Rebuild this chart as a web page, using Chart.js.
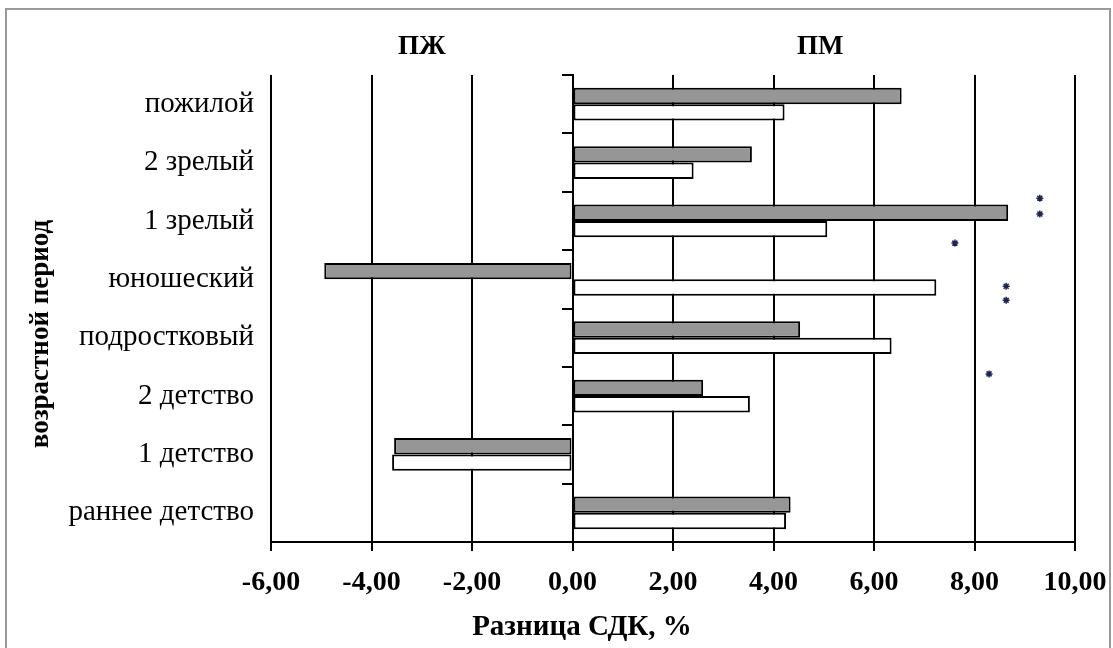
<!DOCTYPE html>
<html>
<head>
<meta charset="utf-8">
<script src="https://cdn.jsdelivr.net/npm/chart.js@4/dist/chart.umd.min.js"></script>
<style>
  html, body { margin: 0; padding: 0; background: #fff; }
  #wrap { width: 1113px; height: 648px; position: relative; }
</style>
</head>
<body>
<div id="wrap"><canvas id="chart" width="1113" height="648"></canvas></div>
<script>
var categories = ['пожилой', '2 зрелый', '1 зрелый', 'юношеский', 'подростковый', '2 детство', '1 детство', 'раннее детство'];
var grayValues = [6.55, 3.57, 8.67, -4.94, 4.53, 2.60, -3.55, 4.34];
var whiteValues = [4.22, 2.41, 5.07, 7.24, 6.35, 3.53, -3.59, 4.25];

// significance marks: x value and row position (category index, fractional)
var starX = [9.30, 9.30, 7.61, 8.63, 8.63, 8.29];
var starRow = [1.61, 1.88, 2.38, 3.12, 3.36, 4.62];

var sideTitles = ['ПЖ', 'ПМ'];
var sideTitleAt = [-3, 4.93];

var xTitle = 'Разница СДК, %';
var yTitle = 'возрастной период';

var xMin = -6, xMax = 10, xStep = 2;

var serif = '"Liberation Serif", "Times New Roman", serif';

function fmt(v) {
  return v.toFixed(2).replace('.', ',');
}

var frame = {
  id: 'frame',
  beforeDraw: function(chart) {
    var ctx = chart.ctx;
    ctx.save();
    ctx.strokeStyle = '#999';
    ctx.lineWidth = 2;
    ctx.strokeRect(6, 9, 1104, 700);
    ctx.restore();
  }
};

// titles: ПЖ / ПМ over each half, plus the two axis titles
var titles = {
  id: 'titles',
  afterDraw: function(chart) {
    var ctx = chart.ctx;
    var x = chart.scales.x;
    ctx.save();
    ctx.fillStyle = '#000';
    ctx.textAlign = 'center';
    ctx.textBaseline = 'middle';
    ctx.font = 'bold 27px ' + serif;
    sideTitles.forEach(function(t, i) {
      ctx.fillText(t, x.getPixelForValue(sideTitleAt[i]), 47);
    });

    ctx.font = 'bold 29px ' + serif;
    ctx.fillText(xTitle, 582, 628);

    ctx.translate(41, 334);
    ctx.rotate(-Math.PI / 2);
    ctx.font = 'bold 27px ' + serif;
    ctx.fillText(yTitle, 0, 0);
    ctx.restore();
  }
};

var stars = starX.map(function(v, i) {
  return {x: v, y: starRow[i]};
});

new Chart(document.getElementById('chart'), {
  type: 'bar',
  data: {
    labels: categories,
    datasets: [{
      label: 'ПЖ/ПМ 1',
      indexAxis: 'y',
      data: grayValues,
      backgroundColor: '#969696',
      borderColor: '#000',
      borderWidth: 2,
      borderSkipped: false,
      xAxisID: 'x',
      yAxisID: 'y',
      barPercentage: 1.0,
      categoryPercentage: 0.56
    }, {
      label: 'ПЖ/ПМ 2',
      indexAxis: 'y',
      data: whiteValues,
      backgroundColor: '#fff',
      borderColor: '#000',
      borderWidth: 2,
      borderSkipped: false,
      xAxisID: 'x',
      yAxisID: 'y',
      barPercentage: 1.0,
      categoryPercentage: 0.56
    }, {
      type: 'scatter',
      label: 'p',
      data: stars,
      xAxisID: 'x',
      yAxisID: 'yRow',
      pointStyle: 'star',
      radius: 3.5,
      borderColor: '#1c2450',
      backgroundColor: '#1c2450',
      borderWidth: 1.5
    }]
  },
  options: {
    responsive: false,
    animation: false,
    events: [],
    layout: { padding: { top: 75, right: 38, bottom: 0, left: 0 } },
    plugins: {
      legend: { display: false },
      tooltip: { enabled: false }
    },
    scales: {
      x: {
        type: 'linear',
        position: 'bottom',
        offset: false,
        min: xMin,
        max: xMax,
        ticks: {
          stepSize: xStep,
          color: '#000',
          padding: 15,
          font: { family: serif, size: 28, weight: 'bold' },
          callback: function(v) { return fmt(v); }
        },
        grid: { color: '#000', lineWidth: 2, tickLength: 9, offset: false },
        border: { color: '#000', width: 2 },
        afterFit: function(s) {
          s.height = 106;
          // let the last label hang into the right margin
          s.paddingLeft = 0;
          s.paddingRight = 0;
        }
      },
      y: {
        type: 'category',
        position: 'left',
        offset: true,
        ticks: {
          color: '#000',
          padding: 17,
          font: { family: serif, size: 29 }
        },
        grid: { display: false, drawTicks: false, offset: true },
        border: { display: false },
        afterFit: function(s) { s.width = 271; }
      },
      yZero: {
        type: 'category',
        axis: 'y',
        position: { x: 0 },
        offset: true,
        ticks: { display: false },
        grid: { drawOnChartArea: false, offset: true, color: '#000', lineWidth: 2, tickLength: 10 },
        border: { color: '#000', width: 2 }
      },
      yRow: {
        type: 'linear',
        axis: 'y',
        display: false,
        reverse: true,
        min: -0.5,
        max: categories.length - 0.5
      }
    }
  },
  plugins: [frame, titles]
});
</script>
</body>
</html>
